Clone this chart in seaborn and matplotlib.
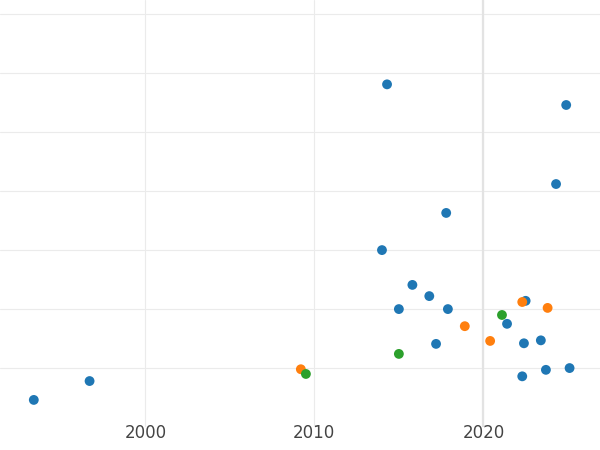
import matplotlib
matplotlib.use("Agg")
import matplotlib.pyplot as plt
import seaborn as sns
import pandas as pd

years_a = [1993.4,1996.7,2014.3,2024.9,2024.3,2017.8,2014.0,2015.8,2016.8,2015.0,2017.9,2022.5,2021.4,2017.2,2022.4,2023.4,2022.3,2023.7,2025.1]
vals_a = [0.46,0.78,5.81,5.46,4.12,3.63,3.0,2.41,2.22,2.0,2.0,2.14,1.75,1.41,1.42,1.47,0.86,0.97,1.0]
years_b = [2009.2,2018.9,2020.4,2022.3,2023.8]
vals_b = [0.98,1.71,1.46,2.12,2.02]
years_c = [2009.5,2015.0,2021.1]
vals_c = [0.9,1.24,1.9]

df = pd.DataFrame({
    "year": years_a + years_b + years_c,
    "value": vals_a + vals_b + vals_c,
    "group": ["a"]*len(years_a) + ["b"]*len(years_b) + ["c"]*len(years_c),
})

sns.set_theme(style="whitegrid")
fig = plt.figure(figsize=(6, 4.5), dpi=100)
ax = fig.add_axes([0, 0.051, 1, 0.949])
sns.scatterplot(data=df, x="year", y="value", hue="group",
                palette=["#1f77b4", "#ff7f0e", "#2ca02c"], s=50, edgecolor="none",
                legend=False, ax=ax, zorder=3)
ax.axvline(2020, color="#e3e3e3", lw=1.6, zorder=1)
ax.set_xlim(1991.4, 2026.9)
ax.set_ylim(0, 7.24)
ax.set_yticks(range(1, 8))
ax.set_yticklabels([])
ax.set_xticks([2000, 2010, 2020])
ax.tick_params(axis="x", labelsize=12, colors="#444444", pad=-2, length=0)
ax.tick_params(axis="y", length=0)
ax.set_xlabel("")
ax.set_ylabel("")
ax.grid(color="#ebebeb", lw=0.8)
for s in ax.spines.values():
    s.set_visible(False)
fig.savefig("out.png", dpi=100)
